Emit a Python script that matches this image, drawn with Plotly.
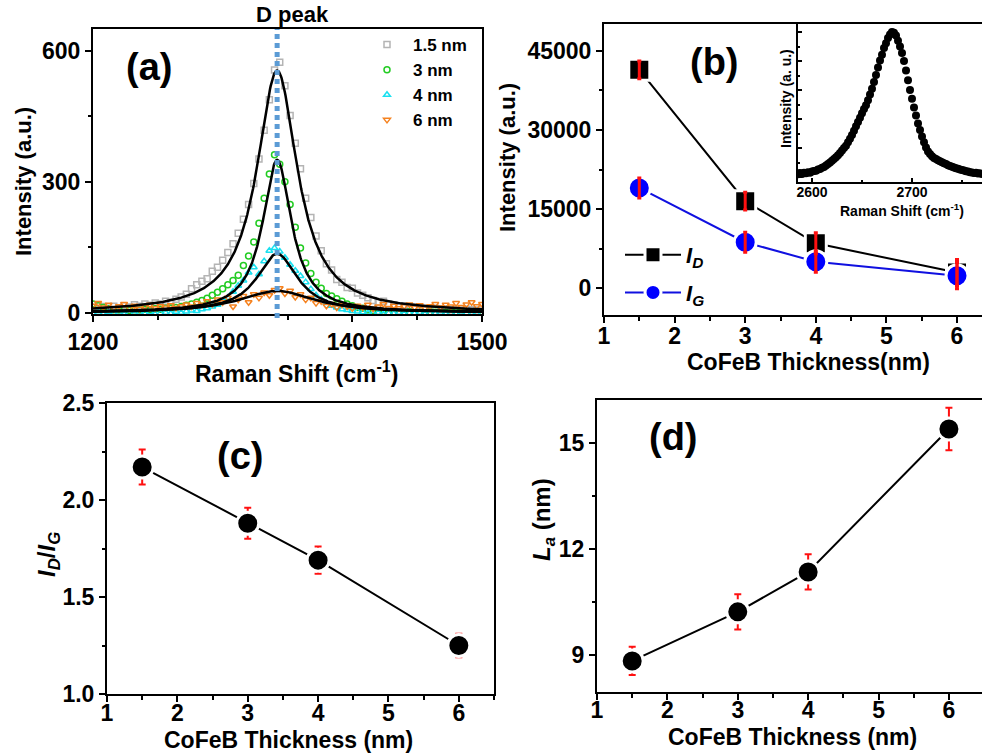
import numpy as np
import plotly.graph_objects as go

FIG_W, FIG_H = 982, 753
FONT = "Liberation Sans"

# ---------------- (a) Raman spectra of the D band ----------------
shift_start = 1200
shift_step = 4
spec_labels = ["1.5 nm", "3 nm", "4 nm", "6 nm"]
spec_1p5nm = [12, 8, 14, 10, 15, 11, 16, 13, 18, 15, 20, 17, 22, 20, 26, 24, 31, 36, 42, 55,
              64, 72, 78, 95, 104, 120, 138, 158, 182, 214, 248, 296, 352, 418, 488, 556, 574, 520, 452, 388,
              330, 262, 218, 176, 142, 112, 98, 76, 70, 58, 56, 45, 40, 34, 28, 24, 26, 20, 18, 16,
              14, 12, 13, 10, 11, 9, 10, 8, 9, 7, 8, 6, 8, 7, 6, 7]
spec_3nm = [20, 16, 12, 9, 7, 6, 8, 5, 7, 6, 8, 7, 9, 8, 10, 11, 12, 14, 17, 20,
            24, 28, 33, 40, 47, 55, 64, 74, 86, 108, 130, 162, 205, 262, 318, 362, 340, 300, 248, 196,
            148, 114, 90, 70, 56, 44, 38, 32, 26, 20, 16, 12, 10, 6, 4, 2, 3, 1, 2, 0,
            1, 2, 0, 1, 0, 2, 1, 0, 1, 0, 2, 1, 0, 1, 0, 1]
spec_4nm = [-2, 0, -3, 1, -2, 0, -4, -1, -3, 0, -2, 1, -3, -1, 0, -2, 2, 0, 3, 5,
            4, 8, 10, 14, 18, 26, 34, 48, 62, 74, 92, 104, 88, 118, 142, 148, 140, 126, 110, 96,
            84, 70, 54, 40, 30, 22, 16, 12, 8, 6, 4, 3, 1, 0, -2, 0, -3, -1, -2, 0,
            -3, -1, -2, 0, -3, -1, -2, 0, -3, -1, -2, 0, -1, -3, -2, -1]
spec_6nm = [16, 22, 12, 18, 10, 15, 20, 11, 16, 9, 14, 18, 10, 15, 12, 17, 11, 15, 19, 14,
            22, 18, 26, 20, 30, 24, 34, 14, 30, 38, 24, 42, 34, 46, 40, 52, 56, 44, 50, 36,
            42, 30, 34, 22, 26, 16, 20, 12, 18, 14, 10, 16, 12, 18, 9, 14, 20, 11, 16, 10,
            15, 19, 12, 17, 10, 15, 20, 12, 18, 14, 22, 13, 19, 24, 15, 20]
spec_colors = ["#b4b4b4", "#22cc22", "#19e0f0", "#f5821f"]
spec_symbols = ["square-open", "circle-open", "triangle-up-open", "triangle-down-open"]

# Lorentzian fit parameters for each spectrum
fit_amplitude = [555, 350, 135, 50]
fit_center = [1342, 1342, 1342, 1342]
fit_hwhm = [19, 13.5, 19, 35]
d_peak_shift = 1342

# ---------------- (b) D and G peak intensities ----------------
thickness = [1.5, 3, 4, 6]
intensity_d = [41400, 16500, 8500, 2950]
intensity_d_err = [1700, 1700, 2000, 2500]
intensity_g = [19000, 8700, 5000, 2360]
intensity_g_err = [1900, 1900, 2000, 2500]

# inset: 2D band
inset_start = 2586
inset_step = 2
inset_2d = [0.10, 0.14, 0.11, 0.15, 0.13, 0.17, 0.15, 0.19, 0.21, 0.22,
            0.26, 0.28, 0.32, 0.35, 0.40, 0.45, 0.50, 0.56, 0.62, 0.68,
            0.75, 0.83, 0.92, 1.00, 1.08, 1.20, 1.32, 1.45, 1.60, 1.75,
            1.90, 2.05, 2.20, 2.35, 2.48, 2.65, 2.85, 3.05, 3.28, 3.52,
            3.78, 4.02, 4.22, 4.45, 4.62, 4.80, 4.92, 5.00, 4.98, 4.88,
            4.70, 4.50, 4.28, 4.00, 3.68, 3.34, 3.00, 2.70, 2.40, 2.12,
            1.85, 1.62, 1.40, 1.20, 1.02, 0.88, 0.80, 0.72, 0.66, 0.62,
            0.58, 0.55, 0.51, 0.48, 0.45, 0.41, 0.38, 0.36, 0.33, 0.30,
            0.29, 0.26, 0.24, 0.23, 0.20, 0.19, 0.17, 0.16, 0.14, 0.15,
            0.12, 0.13, 0.11]

# ---------------- (c) intensity ratio ----------------
ratio_dg = [2.17, 1.88, 1.69, 1.25]
ratio_dg_err = [0.09, 0.08, 0.07, 0.06]

# ---------------- (d) crystallite size ----------------
crystallite_la = [8.83, 10.22, 11.35, 15.4]
crystallite_la_err = [0.4, 0.5, 0.5, 0.6]


def px_x(p):
    return p / FIG_W


def px_y(p):
    return 1 - p / FIG_H


def axis(domain, rng, dtick, minor_dtick, anchor, mirror=True, size=23,
         showlabels=True, ticks="outside", ticklen=6, minorlen=3.5, fmt=None, standoff=None):
    d = dict(domain=domain, range=rng, anchor=anchor, showline=True, linecolor="black",
             linewidth=2, mirror=mirror, ticks=ticks, ticklen=ticklen, tickwidth=2,
             tickcolor="black", dtick=dtick, tick0=0, automargin=False,
             exponentformat="none", separatethousands=False,
             tickfont=dict(family=FONT, size=size, color="black", weight="bold"),
             showgrid=False, zeroline=False, showticklabels=showlabels,
             minor=dict(dtick=minor_dtick, tick0=0, ticks=ticks, ticklen=minorlen,
                        tickwidth=1.5, tickcolor="black"))
    if fmt is not None:
        d["tickformat"] = fmt
    if standoff is not None:
        d["ticklabelstandoff"] = standoff
    return d


fig = go.Figure()

# ---- (a) spectra ----
spectra = [spec_1p5nm, spec_3nm, spec_4nm, spec_6nm]
for vals, name, col, sym in zip(spectra, spec_labels, spec_colors, spec_symbols):
    xs = [shift_start + shift_step * i for i in range(len(vals))]
    fig.add_trace(go.Scatter(
        x=xs, y=vals, mode="markers", name=name, xaxis="x", yaxis="y", legend="legend",
        marker=dict(symbol=sym, size=6, color=col, line=dict(width=1.5, color=col)),
    ))

shift_fine = np.linspace(1200, 1500, 601)
for amp, cen, hw in zip(fit_amplitude, fit_center, fit_hwhm):
    fig.add_trace(go.Scatter(
        x=shift_fine, y=amp / (1 + ((shift_fine - cen) / hw) ** 2), mode="lines",
        line=dict(color="black", width=2.5), showlegend=False, xaxis="x", yaxis="y",
    ))

# ---- (b) peak intensities ----
fig.add_trace(go.Scatter(
    x=thickness, y=intensity_d, mode="lines+markers", name="<i>I</i><sub><i>D</i></sub>",
    xaxis="x2", yaxis="y2", legend="legend2", legendgroup="d",
    line=dict(color="black", width=2),
    marker=dict(symbol="square", size=21, color="black", line=dict(color="white", width=3)),
))
fig.add_trace(go.Scatter(
    x=thickness, y=intensity_g, mode="lines+markers", name="<i>I</i><sub><i>G</i></sub>",
    xaxis="x2", yaxis="y2", legend="legend2", legendgroup="g",
    line=dict(color="#1010e0", width=2),
    marker=dict(symbol="circle", size=22, color="#0000ff", line=dict(color="white", width=3)),
))
for vals, errs in ((intensity_d, intensity_d_err), (intensity_g, intensity_g_err)):
    fig.add_trace(go.Scatter(
        x=thickness, y=vals, mode="markers", showlegend=False, xaxis="x2", yaxis="y2",
        marker=dict(size=1, color="rgba(0,0,0,0)"),
        error_y=dict(type="data", array=errs, color="#ff1010", thickness=3, width=2),
    ))

# inset 2D band
fig.add_trace(go.Scatter(
    x=[inset_start + inset_step * i for i in range(len(inset_2d))], y=inset_2d,
    mode="markers", showlegend=False, xaxis="x3", yaxis="y3",
    marker=dict(symbol="circle", size=8, color="black"),
))

# ---- (c) ratio ----
fig.add_trace(go.Scatter(
    x=thickness, y=ratio_dg, mode="lines+markers", showlegend=False, xaxis="x4", yaxis="y4",
    line=dict(color="black", width=2),
    marker=dict(size=22, color="black", line=dict(color="white", width=3)),
    error_y=dict(type="data", array=ratio_dg_err, color="#ff1010", thickness=2, width=3.5),
))

# ---- (d) crystallite size ----
fig.add_trace(go.Scatter(
    x=thickness, y=crystallite_la, mode="lines+markers", showlegend=False, xaxis="x5", yaxis="y5",
    line=dict(color="black", width=2),
    marker=dict(size=22, color="black", line=dict(color="white", width=3)),
    error_y=dict(type="data", array=crystallite_la_err, color="#ff1010", thickness=2, width=3.5),
))

# D-peak position marker
fig.add_shape(type="line", xref="x", yref="paper", x0=d_peak_shift, x1=d_peak_shift,
              y0=px_y(318), y1=px_y(29), layer="above",
              line=dict(color="#5b9bd5", width=5, dash="5px,4px"))

annotations = []


def text(x, y, s, size, angle=0, weight="bold", xanchor="center"):
    annotations.append(dict(x=px_x(x), y=px_y(y), xref="paper", yref="paper", text=s,
                            showarrow=False, textangle=angle, xanchor=xanchor, yanchor="middle",
                            font=dict(family=FONT, size=size, color="black", weight=weight)))


# panel labels
text(149, 67, "(a)", 38)
text(714, 62, "(b)", 38)
text(240, 456, "(c)", 38)
text(673, 437, "(d)", 38)
text(292, 15, "D peak", 22)

# axis titles
text(296, 372, "Raman Shift (cm<sup>-1</sup>)", 23)
text(23, 182, "Intensity (a.u.)", 22, angle=-90)
text(507, 158, "Intensity (a.u.)", 22, angle=-90)
text(808, 362, "CoFeB Thickness(nm)", 23)
text(902, 210, "Raman Shift (cm<sup>-1</sup>)", 14)
text(786, 99, "Intensity (a. u.)", 14, angle=-90)
text(288, 740, "CoFeB Thickness (nm)", 23)
text(48, 555, "<i>I</i><sub><i>D</i></sub>/<i>I</i><sub><i>G</i></sub>", 24, angle=-90)
text(792, 737, "CoFeB Thickness (nm)", 23)
text(543, 520, "<i>L</i><sub><i>a</i></sub> (nm)", 24, angle=-90)

fig.update_layout(
    width=FIG_W, height=FIG_H, margin=dict(l=0, r=0, t=0, b=0, autoexpand=False),
    paper_bgcolor="white", plot_bgcolor="white", showlegend=True,
    font=dict(family=FONT, color="black"),
    annotations=annotations,
    # (a)
    xaxis=axis([px_x(93), px_x(482)], [1200, 1500], 100, 50, "y"),
    yaxis=axis([px_y(314), px_y(29)], [-3, 650], 300, 150, "x"),
    # (b)
    xaxis2=axis([px_x(604), 1.0], [1, 6.354], 1, 0.5, "y2", standoff=-7),
    yaxis2=axis([px_y(315), px_y(24)], [-5100, 50100], 15000, 7500, "x2", mirror=False, fmt="d"),
    # inset
    xaxis3=axis([px_x(798), 1.0], [2586, 2770], 100, 50, "y3", mirror=False, size=14,
                ticks="inside", ticklen=4, minorlen=2, standoff=-4),
    yaxis3=axis([px_y(182), px_y(24)], [-0.17, 5.28], 1, 0.5, "x3", mirror=False,
                showlabels=False, ticks="inside", ticklen=4, minorlen=2),
    # (c)
    xaxis4=axis([px_x(107), px_x(494)], [1, 6.5], 1, 0.5, "y4", standoff=-9),
    yaxis4=axis([px_y(694), px_y(403)], [1.0, 2.5], 0.5, 0.25, "x4", fmt=".1f"),
    # (d)
    xaxis5=axis([px_x(597), 1.0], [1, 6.47], 1, 0.5, "y5", standoff=-10),
    yaxis5=axis([px_y(692), px_y(400)], [7.95, 16.22], 3, 1.5, "x5", mirror=False),
    legend=dict(x=px_x(361), y=px_y(27), xanchor="left", yanchor="top",
                bgcolor="rgba(0,0,0,0)", itemwidth=42, tracegroupgap=0,
                font=dict(family=FONT, size=17, color="black", weight="bold")),
    legend2=dict(x=px_x(620), y=px_y(234), xanchor="left", yanchor="top",
                 bgcolor="rgba(0,0,0,0)", itemwidth=56, tracegroupgap=6,
                 font=dict(family=FONT, size=22, color="black", weight="bold")),
)

fig.write_html("out.html")
